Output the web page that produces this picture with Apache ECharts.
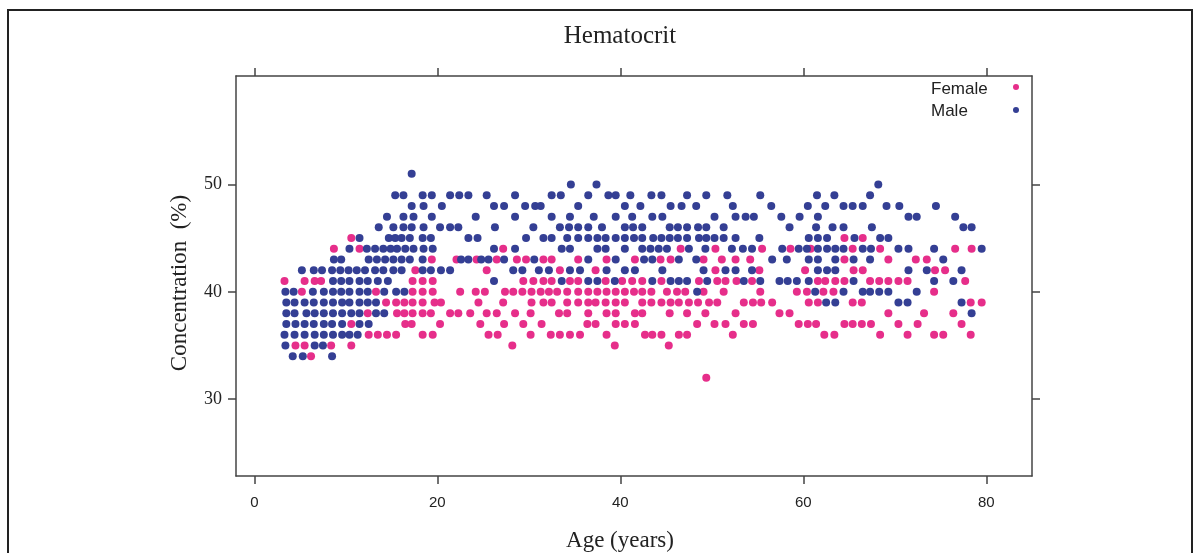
<!DOCTYPE html>
<html>
<head>
    <meta charset="utf-8">
    <title>Hematocrit</title>
    <script type="text/javascript" src="https://cdn.jsdelivr.net/npm/echarts@6/dist/echarts.min.js"></script>
    <style>
        html, body { margin: 0; padding: 0; background: #fff; }
    </style>
</head>

<body>
    <div id="main" style="width:1201px;height:553px;"></div>
    <script type="text/javascript">
    // ages (years) of the points in each concentration row
    var male_51 = [17.2];
    var male_50 = [34.6, 37.4, 68.2];
    var male_49 = [15.4, 16.3, 18.4, 19.4, 21.4, 22.4, 23.4, 25.4, 28.5, 32.5, 33.5, 36.5, 38.7, 39.5, 41.1, 43.4, 44.5, 47.3, 49.4, 51.7, 55.3, 61.5, 63.4, 67.3];
    var male_48 = [17.2, 18.5, 20.5, 26.2, 27.3, 29.6, 30.7, 31.3, 35.4, 40.5, 42.2, 45.5, 46.7, 48.3, 52.3, 56.5, 60.5, 62.4, 64.4, 65.4, 66.5, 69.1, 70.5, 74.5];
    var male_47 = [14.5, 16.3, 17.4, 19.4, 24.2, 28.5, 32.5, 34.5, 37.1, 39.5, 41.3, 43.5, 44.6, 50.3, 52.6, 53.7, 54.6, 57.6, 59.6, 61.6, 71.5, 72.4, 76.6];
    var male_46 = [13.6, 15.2, 16.3, 17.2, 18.5, 20.3, 21.4, 22.3, 26.3, 30.5, 33.4, 34.4, 35.4, 36.5, 38.0, 40.5, 41.4, 42.4, 45.4, 46.3, 47.3, 48.5, 49.4, 51.3, 58.5, 61.4, 63.2, 64.4, 67.5, 77.5, 78.4];
    var male_45 = [11.5, 14.7, 15.4, 16.1, 17.0, 18.4, 19.3, 23.4, 24.4, 29.7, 31.6, 32.5, 34.2, 35.4, 36.5, 37.5, 38.4, 39.5, 40.5, 41.5, 42.4, 43.6, 44.5, 45.4, 46.3, 47.3, 48.6, 49.4, 50.3, 51.3, 52.6, 55.2, 60.6, 61.6, 62.6, 65.6, 68.4, 69.3];
    var male_44 = [10.4, 12.3, 13.2, 14.1, 14.9, 15.6, 16.5, 17.4, 18.5, 19.5, 26.2, 28.5, 33.6, 34.5, 37.5, 38.4, 40.5, 42.4, 43.3, 44.2, 45.1, 47.5, 49.3, 52.2, 53.4, 54.4, 57.7, 59.5, 60.4, 61.6, 62.6, 63.5, 64.4, 66.5, 67.4, 70.4, 71.5, 74.3, 79.5];
    var male_43 = [8.7, 9.5, 12.5, 13.4, 14.3, 15.2, 16.1, 17.0, 18.4, 22.6, 23.4, 24.8, 25.6, 27.3, 30.6, 36.5, 39.5, 42.6, 43.5, 46.4, 48.3, 56.6, 58.2, 60.6, 61.6, 63.5, 65.5, 67.3, 75.3];
    var male_42 = [5.2, 6.5, 7.4, 8.5, 9.4, 10.3, 11.2, 12.1, 13.2, 14.1, 15.2, 16.1, 18.4, 19.3, 20.4, 21.4, 28.3, 29.3, 31.1, 32.2, 34.5, 35.6, 38.5, 40.5, 41.6, 44.6, 49.1, 51.5, 52.6, 54.4, 61.6, 62.6, 63.5, 71.5, 73.5, 77.3];
    var male_41 = [8.6, 9.5, 10.4, 11.5, 12.4, 13.5, 14.6, 26.2, 33.6, 36.5, 37.5, 39.4, 43.5, 45.5, 46.4, 47.3, 49.5, 53.5, 55.3, 57.4, 58.3, 59.3, 60.6, 65.5, 74.3, 76.4];
    var male_40 = [3.4, 4.3, 6.4, 7.6, 8.6, 9.5, 10.4, 11.5, 12.4, 14.2, 15.5, 16.4, 48.4, 61.3, 64.4, 66.5, 67.3, 68.3, 69.3, 72.4];
    var male_39 = [3.5, 4.4, 5.5, 6.5, 7.6, 8.6, 9.6, 10.4, 11.5, 12.4, 13.3, 62.5, 63.5, 70.4, 71.4, 77.3];
    var male_38 = [3.5, 4.4, 5.7, 6.6, 7.6, 8.6, 9.6, 10.6, 11.5, 13.3, 14.2, 78.4];
    var male_37 = [3.5, 4.5, 5.5, 6.5, 7.6, 8.5, 9.6, 11.5, 12.5];
    var male_36 = [3.3, 4.4, 5.5, 6.6, 7.6, 8.6, 9.6, 10.4, 11.3];
    var male_35 = [3.4, 6.6, 7.5];
    var male_34 = [4.2, 5.3, 8.5];

    var female_45 = [10.6, 64.5, 66.5];
    var female_44 = [8.7, 11.5, 27.2, 46.6, 50.4, 55.5, 58.6, 60.8, 65.4, 68.4, 76.6, 78.4];
    var female_43 = [19.4, 22.1, 24.3, 26.5, 28.7, 29.7, 31.6, 32.5, 35.4, 38.5, 41.6, 44.4, 45.5, 49.1, 51.1, 52.6, 54.2, 64.5, 69.3, 72.3, 73.5];
    var female_42 = [17.6, 25.4, 33.4, 37.3, 50.4, 55.2, 60.2, 65.5, 66.5, 74.4, 75.5];
    var female_41 = [3.3, 5.5, 6.6, 7.3, 17.3, 18.4, 19.5, 29.4, 30.5, 31.6, 32.5, 34.5, 35.4, 38.4, 40.2, 41.3, 42.4, 44.5, 48.6, 50.6, 51.5, 52.7, 54.4, 61.6, 62.4, 63.5, 64.5, 67.3, 68.3, 69.3, 70.4, 71.4, 77.7];
    var female_40 = [5.2, 13.3, 17.3, 18.4, 19.5, 22.5, 24.2, 25.2, 27.4, 28.3, 29.3, 30.3, 31.3, 32.2, 33.1, 34.2, 35.4, 36.5, 37.5, 38.5, 39.5, 40.5, 41.5, 42.4, 43.4, 45.1, 46.2, 47.1, 49.1, 51.3, 55.3, 59.3, 60.4, 62.2, 63.3, 74.3];
    var female_39 = [14.4, 15.5, 16.4, 17.3, 18.4, 19.7, 20.4, 24.5, 27.2, 30.3, 31.6, 32.5, 34.2, 35.4, 36.5, 37.3, 38.4, 39.5, 40.5, 42.4, 43.4, 44.5, 45.5, 46.4, 47.5, 48.5, 49.7, 50.6, 53.5, 54.5, 55.4, 56.6, 60.6, 61.6, 65.4, 66.4, 78.3, 79.5];
    var female_38 = [12.4, 15.6, 16.4, 17.3, 18.4, 19.3, 21.4, 22.3, 23.6, 25.4, 26.5, 28.5, 30.2, 33.3, 34.2, 36.5, 38.5, 39.5, 41.6, 42.4, 45.4, 47.3, 49.3, 52.6, 57.4, 58.5, 69.3, 73.2, 76.4];
    var female_37 = [10.6, 16.5, 17.2, 20.3, 24.7, 27.3, 29.4, 31.4, 36.4, 37.3, 39.5, 40.5, 41.6, 48.4, 50.3, 51.5, 53.5, 54.5, 59.5, 60.5, 61.4, 64.5, 65.4, 66.4, 67.4, 70.4, 72.5, 77.3];
    var female_36 = [12.5, 13.5, 14.5, 15.5, 18.4, 19.5, 25.6, 26.6, 30.2, 32.4, 33.4, 34.5, 35.6, 38.5, 42.7, 43.5, 44.5, 46.4, 47.3, 52.3, 62.3, 63.4, 68.4, 71.4, 74.3, 75.3, 78.3];
    var female_35 = [4.5, 5.5, 8.4, 10.6, 28.2, 39.4, 45.3];
    var female_34 = [6.2];
    var female_32 = [49.4];

    var xTicks = [0, 20, 40, 60, 80];
    var yTicks = [30, 40, 50];

    var maleRows = [[51, male_51], [50, male_50], [49, male_49], [48, male_48], [47, male_47], [46, male_46],
        [45, male_45], [44, male_44], [43, male_43], [42, male_42], [41, male_41], [40, male_40],
        [39, male_39], [38, male_38], [37, male_37], [36, male_36], [35, male_35], [34, male_34]];
    var femaleRows = [[45, female_45], [44, female_44], [43, female_43], [42, female_42], [41, female_41],
        [40, female_40], [39, female_39], [38, female_38], [37, female_37], [36, female_36],
        [35, female_35], [34, female_34], [32, female_32]];

    function toPoints(rows) {
        var pts = [];
        for (var i = 0; i < rows.length; i++) {
            var ages = rows[i][1];
            for (var j = 0; j < ages.length; j++) {
                pts.push([ages[j], rows[i][0]]);
            }
        }
        return pts;
    }

    var pink = '#E62E8A';
    var navy = '#343F94';
    var axisColor = '#444';

    var myChart = echarts.init(document.getElementById('main'));

    var option = {
        animation: false,
        backgroundColor: '#fff',
        grid: {
            left: 236,
            top: 76,
            width: 796,
            height: 400
        },
        xAxis: [{
            type: 'value',
            min: -2,
            max: 85,
            position: 'bottom',
            splitLine: { show: false },
            axisLine: { onZero: false, lineStyle: { color: axisColor, width: 1.5 } },
            axisTick: { customValues: xTicks, length: 8, lineStyle: { color: axisColor, width: 1.5 } },
            axisLabel: {
                customValues: xTicks,
                margin: 19,
                color: '#222',
                fontSize: 15,
                fontFamily: 'Liberation Sans'
            }
        }, {
            type: 'value',
            min: -2,
            max: 85,
            position: 'top',
            splitLine: { show: false },
            axisLine: { onZero: false, lineStyle: { color: axisColor, width: 1.5 } },
            axisTick: { customValues: xTicks, length: 8, lineStyle: { color: axisColor, width: 1.5 } },
            axisLabel: { show: false }
        }],
        yAxis: [{
            type: 'value',
            min: 22.84,
            max: 60.1,
            position: 'left',
            splitLine: { show: false },
            axisLine: { onZero: false, lineStyle: { color: axisColor, width: 1.5 } },
            axisTick: { customValues: yTicks, length: 8, lineStyle: { color: axisColor, width: 1.5 } },
            axisLabel: {
                customValues: yTicks,
                margin: 14,
                color: '#222',
                fontSize: 18,
                fontFamily: 'Liberation Serif'
            }
        }, {
            type: 'value',
            min: 22.84,
            max: 60.1,
            position: 'right',
            splitLine: { show: false },
            axisLine: { onZero: false, lineStyle: { color: axisColor, width: 1.5 } },
            axisTick: { customValues: yTicks, length: 8, lineStyle: { color: axisColor, width: 1.5 } },
            axisLabel: { show: false }
        }],
        series: [{
            name: 'Female',
            type: 'scatter',
            xAxisIndex: 0,
            yAxisIndex: 0,
            symbol: 'circle',
            symbolSize: 8,
            itemStyle: { color: pink, opacity: 1 },
            data: toPoints(femaleRows)
        }, {
            name: 'Male',
            type: 'scatter',
            xAxisIndex: 0,
            yAxisIndex: 0,
            symbol: 'circle',
            symbolSize: 8,
            itemStyle: { color: navy, opacity: 1 },
            data: toPoints(maleRows)
        }],
        graphic: [{
            type: 'rect',
            shape: { x: 8, y: 10, width: 1184, height: 600 },
            style: { fill: 'none', stroke: '#222', lineWidth: 2 },
            silent: true
        }, {
            type: 'text',
            x: 620, y: 36,
            style: { text: 'Hematocrit', font: '25px "Liberation Serif"', fill: '#222', align: 'center', verticalAlign: 'middle' }
        }, {
            type: 'text',
            x: 620, y: 541,
            style: { text: 'Age (years)', font: '23px "Liberation Serif"', fill: '#222', align: 'center', verticalAlign: 'middle' }
        }, {
            type: 'text',
            x: 180, y: 283,
            rotation: Math.PI / 2,
            style: { text: 'Concentration  (%)', font: '23px "Liberation Serif"', fill: '#222', align: 'center', verticalAlign: 'middle' }
        }, {
            type: 'text',
            x: 931, y: 89,
            style: { text: 'Female', font: '17px "Liberation Sans"', fill: '#222', align: 'left', verticalAlign: 'middle' }
        }, {
            type: 'text',
            x: 931, y: 111,
            style: { text: 'Male', font: '17px "Liberation Sans"', fill: '#222', align: 'left', verticalAlign: 'middle' }
        }, {
            type: 'circle',
            shape: { cx: 1016, cy: 87, r: 3 },
            style: { fill: pink }
        }, {
            type: 'circle',
            shape: { cx: 1016, cy: 110, r: 3 },
            style: { fill: navy }
        }]
    };
    myChart.setOption(option);
    </script>
</body>
</html>
